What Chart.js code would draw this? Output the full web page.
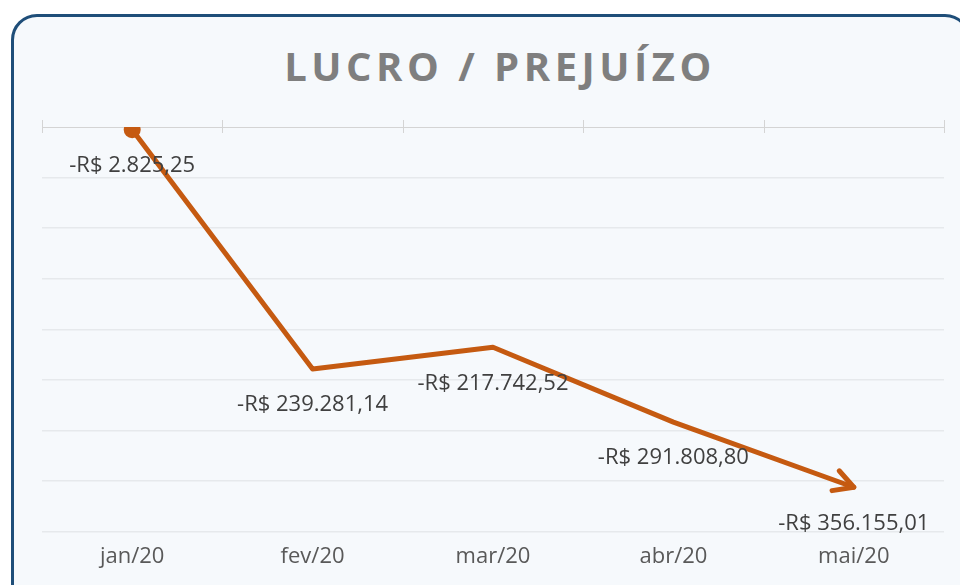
<!DOCTYPE html>
<html>
<head>
<meta charset="utf-8">
<script src="https://cdn.jsdelivr.net/npm/chart.js@4.4.1/dist/chart.umd.min.js"></script>
<style>
  html, body { margin: 0; padding: 0; background: #ffffff; overflow: hidden; }
  #frame {
    position: absolute; left: 11px; top: 14px; width: 960px; height: 620px;
    box-sizing: border-box; border: 3px solid #1f4e79; border-radius: 26px;
    background: #f6f9fc;
  }
  #title {
    position: absolute; left: 0; width: 1000px; top: 38px; margin: 0;
    text-align: center; font: bold 40px "Open Sans", sans-serif;
    letter-spacing: 4.5px; color: #7f7f7f;
  }
  #wrap { position: absolute; left: 0; top: 0; width: 960px; height: 585px; }
</style>
</head>
<body>
<div id="frame"></div>
<h1 id="title">LUCRO / PREJUÍZO</h1>
<div id="wrap"><canvas id="myCanvas"></canvas></div>
<script>
const months = ["jan/20", "fev/20", "mar/20", "abr/20", "mai/20"];
const result = [-2825.25, -239281.14, -217742.52, -291808.80, -356155.01];
const yMin = -400000;
const yMax = 0;
const yStep = 50000;

const orange = '#c55a11';

function brl(v) {
    const s = Math.abs(v).toLocaleString('pt-BR', { minimumFractionDigits: 2, maximumFractionDigits: 2 });
    return (v < 0 ? '-' : '') + 'R$ ' + s;
}

// zero line with cross tick marks, labels under points, arrow at the end
const extras = {
    id: 'extras',
    beforeDatasetsDraw(chart) {
        const ctx = chart.ctx;
        const x = chart.scales.x;
        const y0 = chart.scales.y.getPixelForValue(0);
        ctx.save();
        ctx.strokeStyle = '#d4d4d4';
        ctx.lineWidth = 1;
        ctx.beginPath();
        ctx.moveTo(chart.chartArea.left, y0 + 0.5);
        ctx.lineTo(chart.chartArea.right, y0 + 0.5);
        for (let i = 0; i <= months.length; i++) {
            const px = Math.round(x.getPixelForValue(i - 0.5)) + 0.5;
            ctx.moveTo(px, y0 - 7);
            ctx.lineTo(px, y0 + 6);
        }
        ctx.stroke();
        ctx.restore();
    },
    afterDatasetsDraw(chart) {
        const ctx = chart.ctx;
        const pts = chart.getDatasetMeta(0).data;
        ctx.save();
        // arrow head
        const a = pts[pts.length - 2], b = pts[pts.length - 1];
        const ang = Math.atan2(b.y - a.y, b.x - a.x);
        const len = 22;
        ctx.strokeStyle = orange;
        ctx.lineWidth = 5;
        ctx.lineCap = 'round';
        ctx.lineJoin = 'round';
        ctx.beginPath();
        ctx.moveTo(b.x + len * Math.cos(ang + Math.PI - 0.5), b.y + len * Math.sin(ang + Math.PI - 0.5));
        ctx.lineTo(b.x, b.y);
        ctx.lineTo(b.x + len * Math.cos(ang + Math.PI + 0.5), b.y + len * Math.sin(ang + Math.PI + 0.5));
        ctx.stroke();
        // data labels
        ctx.fillStyle = '#404040';
        ctx.font = '22px "Open Sans", sans-serif';
        ctx.textAlign = 'center';
        ctx.textBaseline = 'middle';
        pts.forEach((p, i) => {
            ctx.fillText(brl(result[i]), p.x, p.y + 36);
        });
        ctx.restore();
    }
};

new Chart(document.getElementById('myCanvas'), {
    type: 'line',
    data: {
        labels: months,
        datasets: [{
            data: result,
            borderColor: orange,
            backgroundColor: orange,
            borderWidth: 5,
            tension: 0,
            pointRadius: ctx => ctx.dataIndex === 0 ? 6 : 0,
            pointHoverRadius: 0,
            borderCapStyle: 'round',
            borderJoinStyle: 'round'
        }]
    },
    options: {
        responsive: true,
        maintainAspectRatio: false,
        animation: false,
        events: [],
        layout: { padding: { left: 42, right: 16, top: 127, bottom: 3 } },
        plugins: {
            legend: { display: false },
            tooltip: { enabled: false }
        },
        scales: {
            x: {
                offset: true,
                grid: { display: false, drawTicks: false },
                border: { display: false },
                ticks: {
                    color: '#595959',
                    padding: 12,
                    font: { family: '"Open Sans", sans-serif', size: 22 }
                }
            },
            y: {
                min: yMin,
                max: yMax,
                ticks: { stepSize: yStep, display: false },
                grid: {
                    drawTicks: false,
                    color: c => c.tick && c.tick.value === 0 ? 'rgba(0,0,0,0)' : '#e6e9ec',
                    lineWidth: 1.5
                },
                border: { display: false }
            }
        }
    },
    plugins: [extras]
});
</script>
</body>
</html>
